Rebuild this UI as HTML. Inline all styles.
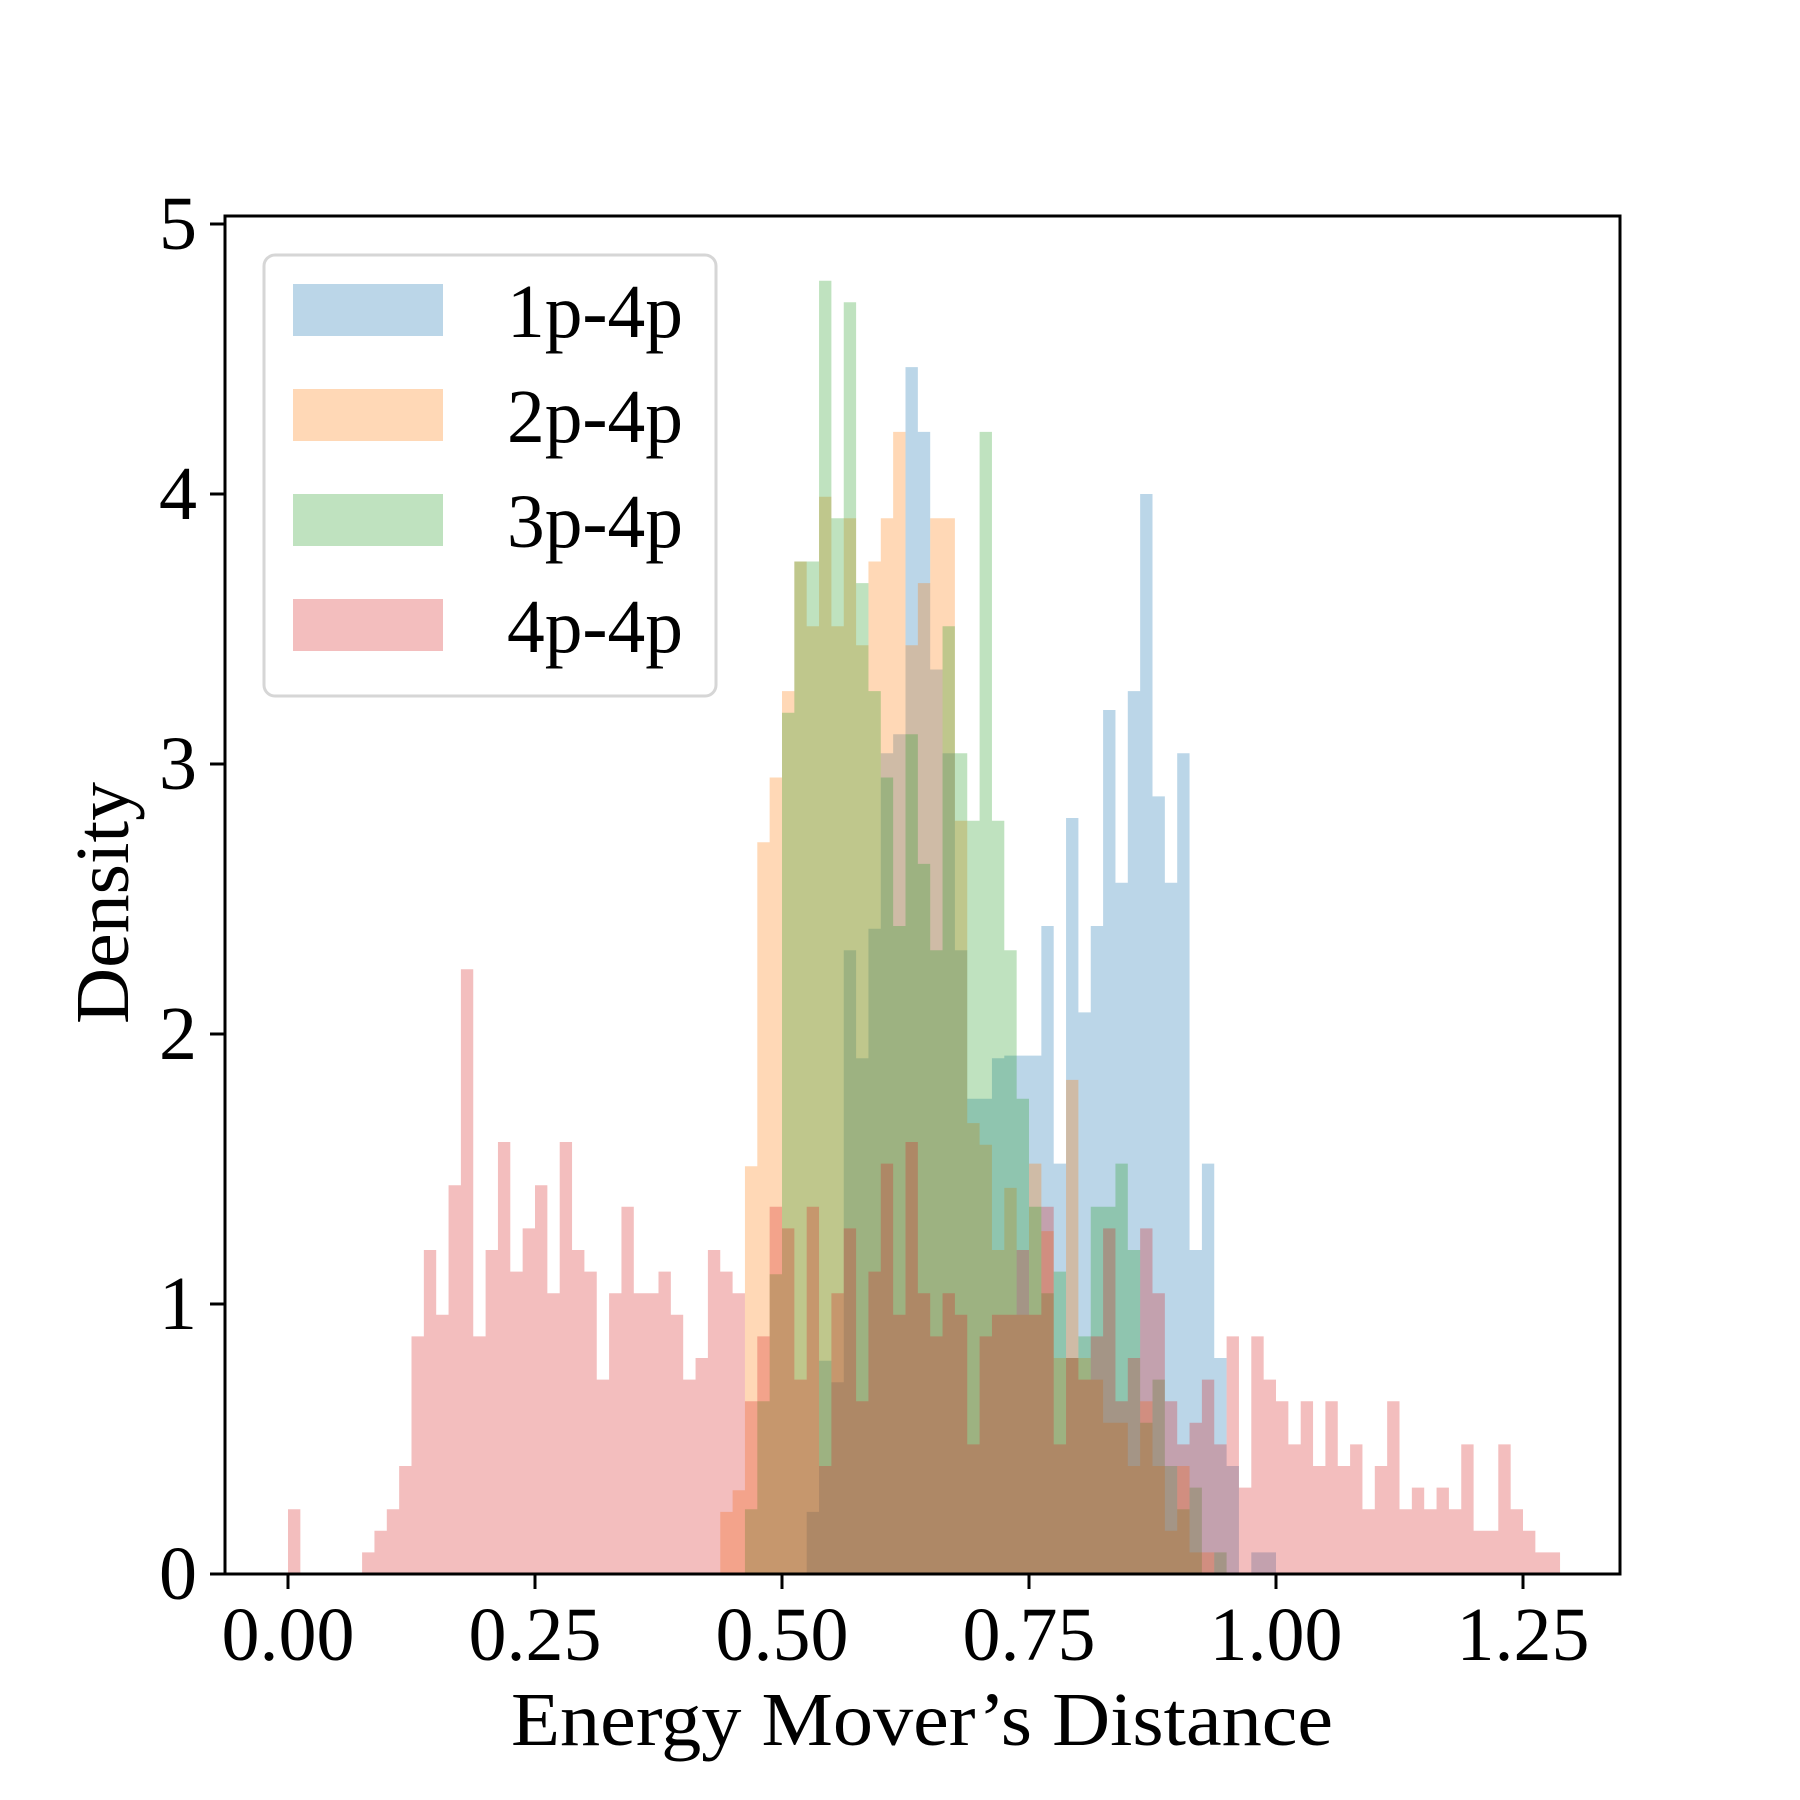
<!DOCTYPE html>
<html><head><meta charset="utf-8"><style>
html,body{margin:0;padding:0;background:#fff;}
svg{display:block;}
text{font-family:"Liberation Serif",serif;fill:#000;}
</style></head><body>
<svg id="chart" width="1800" height="1800" viewBox="0 0 1800 1800" xmlns="http://www.w3.org/2000/svg">
<rect x="0" y="0" width="1800" height="1800" fill="#fff"/>
<g id="bars"></g>
<g id="axes"></g>
<g id="legend"></g>
</svg>
<script>
const binWidth = 0.0125;
const seriesNames = ["1p-4p", "2p-4p", "3p-4p", "4p-4p"];
const seriesColors = ["#1f77b4", "#ff7f0e", "#2ca02c", "#d62728"];
const firstBins = [42, 35, 37, 0];
const values1p = [0.23,0.79,0.71,2.31,1.91,2.39,3.04,3.11,4.47,4.23,3.35,3.04,2.31,1.76,1.76,1.91,1.92,1.92,1.92,2.40,1.52,2.80,2.08,2.40,3.20,2.56,3.27,4.00,2.88,2.56,3.04,1.20,1.52,0.80,0.40,0,0.08,0.08];
const values2p = [0.23,0.31,1.51,2.71,2.95,3.27,3.75,3.51,3.99,3.51,3.91,3.44,3.75,3.91,4.23,3.44,3.67,3.91,3.91,2.79,1.67,1.59,1.20,1.43,0.96,1.52,1.27,0.80,1.83,0.80,0.72,0.56,0.56,0.40,0.64,0.40,0.16,0.40,0.08,0.08];
const values3p = [0.24,0.64,1.11,3.19,3.75,3.75,4.79,3.91,4.71,3.67,3.27,2.95,2.40,3.11,2.63,2.31,3.51,3.04,2.79,4.23,2.79,2.31,1.76,1.36,1.04,1.12,0.80,0.88,1.36,1.36,1.52,1.20,0.56,0.72,0.40,0.24,0.32,0,0.08];
const values4p = [0.24,0,0,0,0,0,0.08,0.16,0.24,0.40,0.88,1.20,0.96,1.44,2.24,0.88,1.20,1.60,1.12,1.28,1.44,1.04,1.60,1.20,1.12,0.72,1.04,1.36,1.04,1.04,1.12,0.96,0.72,0.80,1.20,1.12,1.04,0.64,0.88,1.36,1.28,0.72,1.36,0.40,1.04,1.28,0.64,1.12,1.52,0.96,1.60,1.04,0.88,1.04,0.96,0.48,0.88,0.96,0.96,1.20,0.96,1.36,0.48,0.80,0.72,0.88,1.28,0.64,0.80,1.28,1.04,0.64,0.48,0.56,0.72,0.48,0.88,0.32,0.88,0.72,0.64,0.48,0.64,0.40,0.64,0.40,0.48,0.24,0.40,0.64,0.24,0.32,0.24,0.32,0.24,0.48,0.16,0.16,0.48,0.24,0.16,0.08,0.08];
const xTicks = [0, 0.25, 0.5, 0.75, 1.0, 1.25];
const xTickLabels = ["0.00", "0.25", "0.50", "0.75", "1.00", "1.25"];
const yTicks = [0, 1, 2, 3, 4, 5];
const yTickLabels = ["0", "1", "2", "3", "4", "5"];

const NS = "http://www.w3.org/2000/svg";
const AX = {left:225, right:1620, top:216, bottom:1574};
function xScale(v){ return 288 + v*988; }
function yScale(v){ return 1574 - v*270; }
function mk(tag, attrs, parent){
  const el = document.createElementNS(NS, tag);
  for (const k in attrs) el.setAttribute(k, attrs[k]);
  parent.appendChild(el);
  return el;
}
const barsG = document.getElementById('bars');
const axesG = document.getElementById('axes');
const legG = document.getElementById('legend');
const allValues = [values1p, values2p, values3p, values4p];

allValues.forEach(function(vals, s){
  const base = yScale(0);
  const start = firstBins[s];
  let d = 'M' + xScale(start*binWidth).toFixed(2) + ',' + base;
  vals.forEach(function(v, i){
    const k = start + i;
    const xL = xScale(k*binWidth), xR = xScale((k+1)*binWidth);
    const y = yScale(Math.max(0, v));
    d += ' L' + xL.toFixed(2) + ',' + y.toFixed(2) + ' L' + xR.toFixed(2) + ',' + y.toFixed(2);
  });
  d += ' L' + xScale((start+vals.length)*binWidth).toFixed(2) + ',' + base + ' Z';
  const p = mk('path', {d:d, fill:seriesColors[s], 'fill-opacity':0.3, stroke:'none'}, barsG);
  
  
});

const frame = mk('rect', {x:AX.left, y:AX.top, width:AX.right-AX.left, height:AX.bottom-AX.top, fill:'none', stroke:'#000', 'stroke-width':3}, axesG);



xTicks.forEach(function(t, i){
  const x = xScale(t);
  const l = mk('line', {x1:x, x2:x, y1:AX.bottom, y2:AX.bottom+15, stroke:'#000', 'stroke-width':3}, axesG);
  
  
  const tx = mk('text', {x:x, y:1660, 'font-size':76, 'text-anchor':'middle'}, axesG);
  
  
  tx.textContent = xTickLabels[i];
});
yTicks.forEach(function(t, i){
  const y = yScale(t);
  const l = mk('line', {x1:AX.left-15, x2:AX.left, y1:y, y2:y, stroke:'#000', 'stroke-width':3}, axesG);
  
  
  const tx = mk('text', {x:197, y:y+25, 'font-size':76, 'text-anchor':'end'}, axesG);
  
  
  tx.textContent = yTickLabels[i];
});

const xt = mk('text', {x:922, y:1745, 'font-size':76, 'text-anchor':'middle', textLength:822, lengthAdjust:'spacingAndGlyphs'}, axesG);


xt.textContent = "Energy Mover\u2019s Distance";
const yt = mk('text', {x:0, y:0, 'font-size':76, 'text-anchor':'middle', textLength:242, lengthAdjust:'spacingAndGlyphs', transform:'translate(128,903) rotate(-90)'}, axesG);


yt.textContent = "Density";

const box = mk('rect', {x:264, y:255, width:452, height:441, rx:11, ry:11, fill:'#fff', 'fill-opacity':0.8, stroke:'#d6d6d6', 'stroke-width':3}, legG);


const legY = [284, 389, 494, 599];
seriesNames.forEach(function(n, s){
  const p = mk('rect', {x:293, y:legY[s], width:150, height:52, fill:seriesColors[s], 'fill-opacity':0.3}, legG);
  
  
  const t = mk('text', {x:507, y:legY[s]+53, 'font-size':76, textLength:176, lengthAdjust:'spacingAndGlyphs'}, legG);
  
  
  t.textContent = n;
});
</script>
</body></html>
